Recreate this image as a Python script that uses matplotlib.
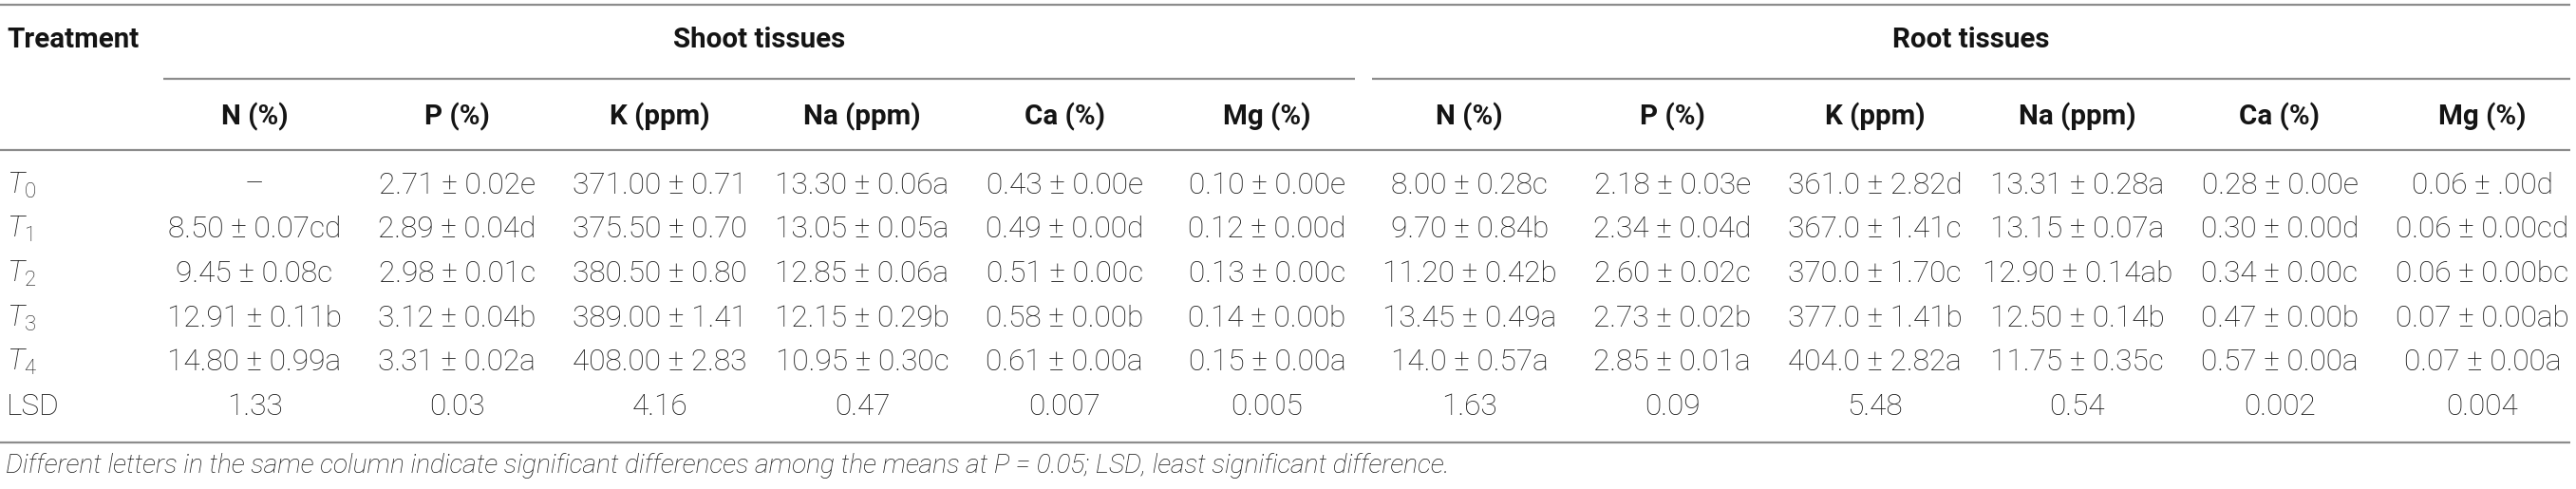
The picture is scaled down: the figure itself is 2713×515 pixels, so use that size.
import matplotlib
matplotlib.use("Agg")
import matplotlib.pyplot as plt

plt.rcParams["font.family"] = ["Roboto", "DejaVu Sans"]
plt.rcParams["mathtext.fontset"] = "custom"
plt.rcParams["mathtext.it"] = "Roboto:italic:light"
plt.rcParams["mathtext.rm"] = "Roboto:light"

# table content
treatments = [r"$\mathit{T}_0$", r"$\mathit{T}_1$", r"$\mathit{T}_2$", r"$\mathit{T}_3$", r"$\mathit{T}_4$", "LSD"]
groups = ["Shoot tissues", "Root tissues"]
nutrients = ["N (%)", "P (%)", "K (ppm)", "Na (ppm)", "Ca (%)", "Mg (%)"]

shoot_N = ["–", "8.50 ± 0.07cd", "9.45 ± 0.08c", "12.91 ± 0.11b", "14.80 ± 0.99a", "1.33"]
shoot_P = ["2.71 ± 0.02e", "2.89 ± 0.04d", "2.98 ± 0.01c", "3.12 ± 0.04b", "3.31 ± 0.02a", "0.03"]
shoot_K = ["371.00 ± 0.71", "375.50 ± 0.70", "380.50 ± 0.80", "389.00 ± 1.41", "408.00 ± 2.83", "4.16"]
shoot_Na = ["13.30 ± 0.06a", "13.05 ± 0.05a", "12.85 ± 0.06a", "12.15 ± 0.29b", "10.95 ± 0.30c", "0.47"]
shoot_Ca = ["0.43 ± 0.00e", "0.49 ± 0.00d", "0.51 ± 0.00c", "0.58 ± 0.00b", "0.61 ± 0.00a", "0.007"]
shoot_Mg = ["0.10 ± 0.00e", "0.12 ± 0.00d", "0.13 ± 0.00c", "0.14 ± 0.00b", "0.15 ± 0.00a", "0.005"]

root_N = ["8.00 ± 0.28c", "9.70 ± 0.84b", "11.20 ± 0.42b", "13.45 ± 0.49a", "14.0 ± 0.57a", "1.63"]
root_P = ["2.18 ± 0.03e", "2.34 ± 0.04d", "2.60 ± 0.02c", "2.73 ± 0.02b", "2.85 ± 0.01a", "0.09"]
root_K = ["361.0 ± 2.82d", "367.0 ± 1.41c", "370.0 ± 1.70c", "377.0 ± 1.41b", "404.0 ± 2.82a", "5.48"]
root_Na = ["13.31 ± 0.28a", "13.15 ± 0.07a", "12.90 ± 0.14ab", "12.50 ± 0.14b", "11.75 ± 0.35c", "0.54"]
root_Ca = ["0.28 ± 0.00e", "0.30 ± 0.00d", "0.34 ± 0.00c", "0.47 ± 0.00b", "0.57 ± 0.00a", "0.002"]
root_Mg = ["0.06 ± .00d", "0.06 ± 0.00cd", "0.06 ± 0.00bc", "0.07 ± 0.00ab", "0.07 ± 0.00a", "0.004"]

footnote = ("Different letters in the same column indicate significant differences "
            "among the means at P = 0.05; LSD, least significant difference.")

columns = [shoot_N, shoot_P, shoot_K, shoot_Na, shoot_Ca, shoot_Mg,
           root_N, root_P, root_K, root_Na, root_Ca, root_Mg]

W, H = 2713, 515
fig = plt.figure(figsize=(W / 100, H / 100), dpi=100)
ax = fig.add_axes([0, 0, 1, 1])
ax.set_xlim(0, W)
ax.set_ylim(H, 0)
ax.axis("off")

txt = "#141414"
line_c = "#8c8c8c"
renderer = fig.canvas.get_renderer()


def fit_size(s, target_px, **kw):
    # pick font size so a sample string spans the width seen in the reference
    t = ax.text(0, 0, s, fontsize=20, **kw)
    w = t.get_window_extent(renderer).width
    t.remove()
    return 20 * target_px / w


fs_body = fit_size("8.50 ± 0.07cd", 183, fontweight="light")
fs_head = fit_size("Treatment", 138, fontweight="bold")
fs_note = fit_size(footnote, 1521, fontweight="light", style="italic")

col_x = [268 + 213.3 * i for i in range(12)]
row_y = [195 + 46.7 * i for i in range(6)]


def hline(y, x0, x1):
    ax.plot([x0, x1], [y, y], color=line_c, lw=1.6, solid_capstyle="butt")


hline(5, 0, 2707)
hline(83, 172, 1427)
hline(83, 1445, 2707)
hline(158, 0, 2707)
hline(466, 0, 2707)

ax.text(7, 42, "Treatment", ha="left", va="center", fontsize=fs_head, fontweight="bold", color=txt)
ax.text((172 + 1427) / 2, 42, groups[0], ha="center", va="center", fontsize=fs_head, fontweight="bold", color=txt)
ax.text((1445 + 2707) / 2, 42, groups[1], ha="center", va="center", fontsize=fs_head, fontweight="bold", color=txt)

for i, x in enumerate(col_x):
    ax.text(x, 123, nutrients[i % 6], ha="center", va="center", fontsize=fs_head,
            fontweight="bold", color=txt)

for j, y in enumerate(row_y):
    ax.text(7, y, treatments[j], ha="left", va="center", fontsize=fs_body,
            fontweight="light", color=txt)
    for i, x in enumerate(col_x):
        ax.text(x, y, columns[i][j], ha="center", va="center", fontsize=fs_body,
                fontweight="light", color=txt)

ax.text(6, 490, footnote, ha="left", va="center", fontsize=fs_note, style="italic",
        fontweight="light", color=txt)

fig.savefig("out.png", dpi=100)
